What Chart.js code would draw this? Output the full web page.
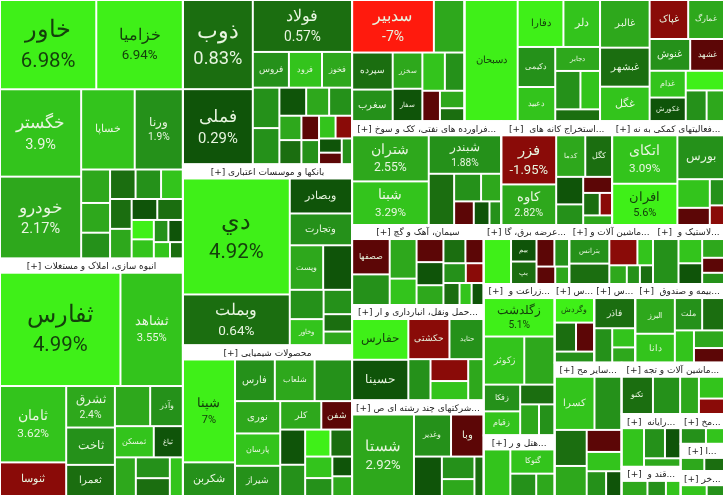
<!DOCTYPE html>
<html><head><meta charset="utf-8">
<script src="https://cdn.jsdelivr.net/npm/chart.js@4"></script>
<style>html,body{margin:0;padding:0;background:#fff}canvas{display:block}</style>
</head><body>
<canvas id="map" width="724" height="496"></canvas>
<script>
// گروه‌ها (null = بدون سرتیتر)
const groupNames = [
  null,
  'انبوه سازی، املاک و مستغلات',
  null,
  'بانکها و موسسات اعتباری',
  'محصولات شیمیایی',
  null,
  null,
  null,
  'فراورده های نفتی، کک و سوخت هسته ای',
  'استخراج کانه های فلزی',
  'فعالیتهای کمکی به نهادهای مالی واسط',
  'سیمان، آهک و گچ',
  'حمل ونقل، انبارداری و ارتباطات',
  'شرکتهای چند رشته ای صنعتی',
  'عرضه برق، گاز، بخار و آب گرم',
  'ماشین آلات و دستگاههای برقی',
  'لاستیک و پلاستیک',
  'زراعت و خدمات وابسته',
  'هتل و رستوران',
  'سایر واسطه گریهای مالی',
  'ساخت محصولات فلزی',
  'بیمه و صندوق بازنشستگی',
  'سایر محصولات کانی غیرفلزی',
  'ماشین آلات و تجهیزات',
  'رایانه و فعالیتهای وابسته',
  'قند و شکر',
  'مخابرات',
  'اطلاعات و ارتباطات',
  'خرده فروشی'
];
const groupTickers = [
  ['خاور','خزامیا','خگستر','خودرو','خساپا','ورنا','خنصیر','خمحور','خفنر','خبهمن','خکرمان','خبمهن','خمحرکه','خریخت','خدیزل','خاذین','خشرق','خچرخش','خلنت','خپویش','خکار','ختوقا'],
  ['ثفارس','ثشاهد','ثامان','ثنوسا','ثشرق','ثاخت','ثعمرا','ثالوند','وآذر','ثمسکن','ثباغ','ثپردیس','ثتران','ثزاگرس','ثاصفا'],
  ['ذوب','فولاد','فملی','فروس','فخوز','فرود','فولاژ','کویر','فسوز','فپنتا','فاما','فلوله','فنورد','فجر','فگستر','فسرب','فجام','فسپا','فمراد','فنفت'],
  ['دي','وبملت','وبصادر','وتجارت','وپست','ونوین','وپاسار','وخاور','وسینا','وکار','وبانک'],
  ['شپنا','شکربن','فارس','شلعاب','تاپیکو','نوری','پارسان','شیراز','کلر','شفن','شپدیس','شخارک','شبصیر','شاروم','شکلر','شسپا','شصدف','شگل'],
  ['سدبیر','سهرمز','سپرده','سغرب','سخزر','سفار','ساروم','سفارس','سشرق','سکرما','سیتا'],
  ['دسبحان','دفارا','دلر','دکیمی','دعبید','دجابر','دتماد','داسوه','دشیمی'],
  ['غالبر','غبشهر','غگل','غپاک','غمارگ','غنوش','غشهد','غدام','غکورش','زمگسا','غزر','غپینو'],
  ['شتران','شبنا','شبندر','شبریز','شاوان','شسینا','شرانل','شنفت','شپاس'],
  ['فزر','کدما','کگل','کاوه','کچاد','کمنگنز','کروی','کطبس','کنور','کفرآور'],
  ['اتکای','افران','بورس','تاپکیش','ولتجار','امین','نوین'],
  ['صصفها','ساربیل','ستران','سمازن','سشمال','ساوه','سبهان','سنیر','سصفها','سقاین','سخاش','سکرد','سدور','ستبریز'],
  ['حفارس','حسینا','حتاید','حکشتی','حآسا','حپارس','حریل','حسیر'],
  ['شستا','وغدیر','وبا','وصنا','وبوعلی','وسپه','رنیک'],
  ['بمپنا','بیم','بپ','بزاگرس','بمولد','بکرمان','بجهرم'],
  ['بترانس','بکابل','بالبر','بایکا','بشهاب','بنیرو','بفجر'],
  ['پسهند','پکرمان','پلاست','پدرخش','پتایر','پاکشو'],
  ['زگلدشت','زکوثر','زماهان','زفکا','زقیام','زشریف','زملارد','زدشت'],
  ['گدنا','گتوکا','گکیش','گپارس'],
  ['وگردش','ولساپا','وملت','وکغدیر'],
  ['فاذر','فجهان','فلوله','فسازان'],
  ['البرز','دانا','ملت','وکوثر','کوثر','اسیا','بیمه'],
  ['کسرا','کفپارس','کساپا','کچینی','کهمدا','کلوند','کرازی','کایتا'],
  ['تکنو','گلدیرا','تپمپی','تایرا','تجلی'],
  ['سیستم','رانفور','مداران','رتاپ'],
  ['قثابت','قشکر','قنیشا'],
  ['اخابر','همراه'],
  ['های وب','افق'],
  ['افق','رافزا']
];
const groupChanges = [
  [6.98,6.94,3.9,2.17,3.26,1.9,2.6,1.2,0.4,2.1,1.6,3.1,0.9,0.3,0.5,2.2,4.1,3.3,1.1,0.2,3.5,0.6],
  [4.99,3.55,3.62,-1.48,2.4,1.3,0.4,2.8,1.9,3.6,0.3,2.2,1.0,0.6,3.2],
  [0.83,0.57,0.29,1.6,2.4,3.4,1.0,0.3,2.9,1.7,2.1,1.4,0.4,-0.6,1.2,3.1,-1.5,0.2,-0.8,1.8],
  [4.92,0.64,0.2,1.1,2.3,0.3,1.6,3.1,1.4,0.5,2.6],
  [7,1.1,1.3,2.0,1.5,2.2,3.4,1.8,2.7,-0.6,0.3,1.2,4.0,0.4,3.6,1.9,0.2,2.5],
  [-7,2.3,0.5,1.6,2.9,0.3,3.88,1.4,-0.9,2.2,0.6],
  [6.97,4.5,3.4,1.8,3.6,2.1,1.3,3.5,0.6],
  [2.3,0.6,3.2,-1.1,2.9,1.6,-0.7,3.3,0.3,4.1,1.2,2.6],
  [2.55,3.29,1.88,0.6,1.4,2.7,-0.8,0.3,1.6],
  [-1.95,2.2,0.7,2.82,0.3,1.4,-0.7,0.4,-1.6,2.1],
  [3.09,5.6,1.6,3.7,-0.5,1.2,-1.1],
  [-0.8,1.5,2.9,3.1,-0.4,0.3,2.2,0.6,-0.9,1.7,-1.6,0.5,3.3,0.2],
  [4.93,0.28,1.3,-2.46,1.7,-1.2,3.2,2.6],
  [2.92,1.5,-0.7,0.3,1.6,2.5,0.6],
  [4.4,0.3,0.5,-0.9,1.8,-0.6,2.1],
  [1.6,0.6,-1.4,3.3,2.2,1.1,0.4],
  [1.9,3.4,0.3,2.7,-0.5,1.4],
  [5.1,3.8,2.4,1.1,3.6,0.4,2.9,1.7],
  [3.2,3.5,1.4,2.3],
  [4.0,0.4,-0.9,1.7],
  [0.57,1.8,3.1,2.4],
  [2.9,3.71,1.4,0.5,3.1,2.2,-0.6],
  [3.1,1.9,0.6,2.7,-0.8,3.4,1.2,0.3],
  [0.7,1.6,2.9,3.3,-1.1],
  [3.6,1.2,0.3,2.6],
  [2.7,1.3,3.4],
  [1.5,3.2],
  [2.8,0.9],
  [3.6,1.4]
];
const groupWeights = [
  [8000,7200,6600,6200,4000,3600,900,700,700,800,700,600,600,500,500,600,400,400,300,300,250,200],
  [13500,7000,5000,2200,2000,1800,1500,1400,1300,1200,900,800,700,600,500],
  [5800,4800,4900,1200,1000,1100,1000,700,600,600,500,900,500,400,400,350,350,300,250,250],
  [12500,5500,2200,2000,1500,1300,1000,900,700,500,400],
  [5500,1800,1700,1700,1600,1500,1500,1400,1200,900,900,800,700,600,600,500,400,400],
  [4000,1500,1400,1200,1000,900,800,700,500,400,300],
  [6000,2000,1600,1400,1200,1000,900,700,500],
  [2200,1800,1600,1400,1300,1200,1000,900,800,700,600,500],
  [3800,3600,3000,1400,800,600,500,400,300],
  [2900,1300,1200,2400,800,600,500,400,300,300],
  [3400,2900,2200,1000,600,400,300],
  [1500,1300,1200,800,700,700,600,600,500,500,400,400,300,300],
  [2500,2500,1500,1800,1000,900,800,700],
  [5500,1700,1500,1200,800,600,400],
  [1500,700,700,600,500,400,300],
  [1200,1000,900,500,400,300,300],
  [1400,700,600,500,400,300],
  [2800,2000,1500,1000,900,700,600,500],
  [1500,1300,700,500],
  [1100,700,600,500],
  [1400,700,500,400],
  [1600,1300,1000,800,700,600,500],
  [2200,1500,1200,1000,800,700,500,400],
  [1500,1300,900,700,500],
  [1100,800,600,400],
  [700,500,400],
  [700,500],
  [600,500],
  [600,400]
];

const W = 724, H = 496, HEAD = 14, GAP = 1;

function colorFor(p) {
  if (p <= -5) return '#ff1a0d';
  if (p <= -1) return '#8a0b08';
  if (p < 0) return '#5c0606';
  if (p < 0.35) return '#0f5409';
  if (p < 1) return '#1b6e10';
  if (p < 2) return '#25911a';
  if (p < 3) return '#2ea81c';
  if (p < 4) return '#33c41c';
  return '#3ff018';
}

// squarified treemap
function squarify(items, x, y, w, h, keepOrder) {
  const total = items.reduce((s, it) => s + it.v, 0);
  const scale = (w * h) / total;
  let list = items.map(it => Object.assign(it, { a: it.v * scale }));
  if (!keepOrder) list.sort((a, b) => b.a - a.a);
  let row = [], rx = x, ry = y, rw = w, rh = h;
  const worst = (r, side) => {
    const s = r.reduce((t, it) => t + it.a, 0);
    let m = 0;
    r.forEach(it => { m = Math.max(m, (side * side * it.a) / (s * s), (s * s) / (side * side * it.a)); });
    return m;
  };
  const layRow = (r) => {
    const s = r.reduce((t, it) => t + it.a, 0);
    if (rw >= rh) {
      const cw = s / rh; let cy = ry;
      r.forEach(it => { const ch = it.a / cw; it.r = [rx, cy, cw, ch]; cy += ch; });
      rx += cw; rw -= cw;
    } else {
      const ch = s / rw; let cx = rx;
      r.forEach(it => { const cw = it.a / ch; it.r = [cx, ry, cw, ch]; cx += cw; });
      ry += ch; rh -= ch;
    }
  };
  let i = 0;
  while (i < list.length) {
    const side = Math.min(rw, rh);
    const cand = row.concat([list[i]]);
    if (row.length === 0 || worst(cand, side) <= worst(row, side)) { row = cand; i++; }
    else { layRow(row); row = []; }
  }
  if (row.length) layRow(row);
  return list;
}

function fitText(ctx, txt, maxW) {
  if (ctx.measureText(txt).width <= maxW) return txt;
  let t = txt;
  while (t.length > 1 && ctx.measureText('...' + t).width > maxW) t = t.slice(0, -1);
  return '...' + t;
}

const treemapPlugin = {
  id: 'treemap',
  afterDraw(chart) {
    const ctx = chart.ctx, xs = chart.scales.x, ys = chart.scales.y;
    const groups = groupNames.map((n, gi) => ({
      gi, v: groupWeights[gi].reduce((s, a) => s + a, 0)
    }));
    squarify(groups, 0, 0, W, H, true);
    ctx.save();
    groups.forEach(g => {
      const [gx, gy, gw, gh] = g.r;
      const px = xs.getPixelForValue(gx), py = ys.getPixelForValue(gy);
      const pw = xs.getPixelForValue(gx + gw) - px, ph = ys.getPixelForValue(gy + gh) - py;
      const name = groupNames[g.gi];
      let top = py;
      if (name) {
        ctx.fillStyle = '#ffffff';
        ctx.fillRect(px, py, pw, HEAD);
        ctx.fillStyle = '#222';
        ctx.font = '9px "DejaVu Sans"';
        ctx.textAlign = 'center'; ctx.textBaseline = 'middle';
        const label = fitText(ctx, name, pw - 24);
        ctx.direction = 'rtl';
        ctx.fillText(label + ' [+]', px + pw / 2, py + HEAD / 2 + 1);
        ctx.direction = 'ltr';
        top = py + HEAD;
      }
      const tiles = groupTickers[g.gi].map((t, i) => ({ t, p: groupChanges[g.gi][i], v: groupWeights[g.gi][i] }));
      squarify(tiles, px, top, pw, py + ph - top);
      tiles.forEach(tl => {
        const [tx, ty, tw, th] = tl.r;
        ctx.fillStyle = colorFor(tl.p);
        ctx.fillRect(tx + GAP, ty + GAP, tw - 2 * GAP, th - 2 * GAP);
        const fs = Math.min(24, th / 3.2, tw / (tl.t.length * 0.75 + 1));
        if (fs < 7) return;
        ctx.fillStyle = tl.p >= 4 ? '#14400c' : '#e8f5e0';
        ctx.textAlign = 'center'; ctx.textBaseline = 'middle';
        ctx.font = fs + 'px Roboto, "Noto Sans", sans-serif';
        const big = fs >= 12;
        ctx.fillText(tl.t, tx + tw / 2, ty + th / 2 - (big ? fs * 0.55 : 0));
        if (big) {
          ctx.font = (fs * 0.85) + 'px Roboto, sans-serif';
          ctx.fillText(tl.p + '%', tx + tw / 2, ty + th / 2 + fs * 0.7);
        }
      });
      ctx.strokeStyle = '#ffffff'; ctx.lineWidth = 2;
      ctx.strokeRect(px, py, pw, ph);
    });
    ctx.restore();
  }
};

new Chart(document.getElementById('map').getContext('2d'), {
  type: 'scatter',
  data: { datasets: [{ data: [] }] },
  options: {
    responsive: false,
    animation: false,
    layout: { padding: 0 },
    plugins: { legend: { display: false }, tooltip: { enabled: false } },
    scales: {
      x: { type: 'linear', min: 0, max: W, display: false },
      y: { type: 'linear', min: 0, max: H, reverse: true, display: false }
    }
  },
  plugins: [treemapPlugin]
});
</script>
</body></html>
